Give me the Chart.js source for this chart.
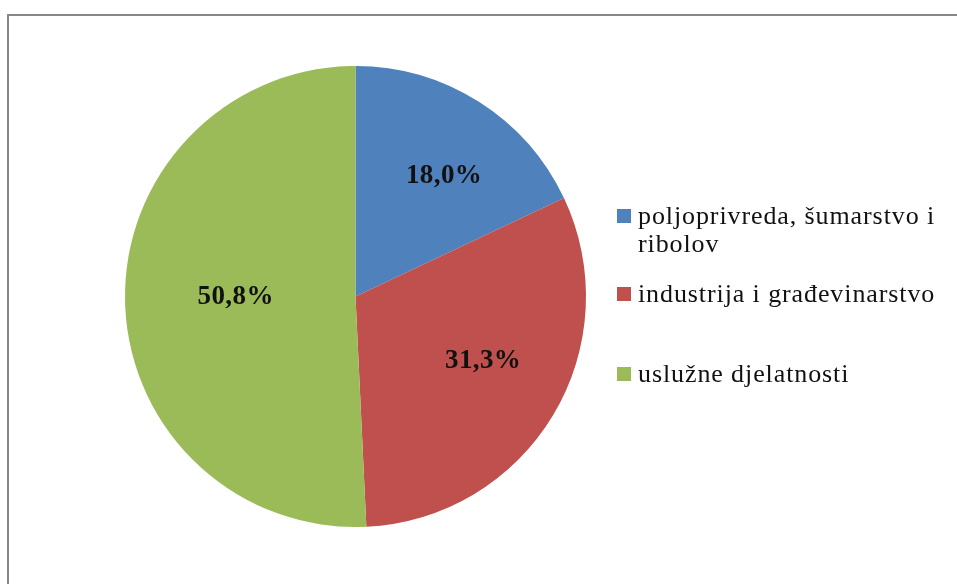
<!DOCTYPE html>
<html>
<head>
<meta charset="utf-8">
<script src="https://cdn.jsdelivr.net/npm/chart.js@4/dist/chart.umd.min.js"></script>
<style>
    html, body { margin: 0; padding: 0; background: #fff; overflow: hidden; }
    #wrap { position: relative; width: 957px; height: 584px; }
    #frame {
        position: absolute; left: 7px; top: 14px; width: 1000px; height: 700px;
        border-top: 2px solid #878787; border-left: 2px solid #878787;
    }
    #pie { position: absolute; left: 0; top: 0; }
    #legend {
        position: absolute; left: 617px; top: 202px; width: 335px;
        font-family: "Liberation Serif", "Times New Roman", serif;
        font-size: 26px; letter-spacing: 0.9px; line-height: 28px; color: #111;
    }
    .item { display: flex; align-items: flex-start; }
    .item:nth-child(2) { margin-top: 22px; }
    .item:nth-child(3) { margin-top: 52px; }
    .box { flex: 0 0 14px; height: 14px; margin-top: 7px; margin-right: 7px; }
    .txt { width: 312px; }
</style>
</head>
<body>
<div id="wrap">
    <div id="frame"></div>
    <canvas id="pie" width="957" height="584"></canvas>
    <div id="legend"></div>
</div>
<script>
const categories = ['poljoprivreda, šumarstvo i ribolov', 'industrija i građevinarstvo', 'uslužne djelatnosti'];
const shares = [18.0, 31.3, 50.8];
const sliceColors = ['#4F81BD', '#C0504D', '#9BBB59'];

// where each percentage sits: part of the radius, and part of the slice's sweep
const labelRadius = [0.64, 0.625, 0.52];
const labelSweep = [0.57, 0.47, 0.5];

const pctLabels = {
    id: 'pctLabels',
    afterDatasetsDraw(chart) {
        const ctx = chart.ctx;
        const meta = chart.getDatasetMeta(0);
        ctx.save();
        ctx.font = 'bold 27px "Liberation Serif", "Times New Roman", serif';
        ctx.letterSpacing = '0.4px';
        ctx.fillStyle = '#111';
        ctx.textAlign = 'center';
        ctx.textBaseline = 'middle';
        meta.data.forEach((arc, i) => {
            const p = arc.getProps(['x', 'y', 'startAngle', 'endAngle', 'outerRadius'], true);
            const a = p.startAngle + (p.endAngle - p.startAngle) * labelSweep[i];
            const r = p.outerRadius * labelRadius[i];
            const text = shares[i].toFixed(1).replace('.', ',') + '%';
            ctx.fillText(text, p.x + Math.cos(a) * r, p.y + Math.sin(a) * r - 2);
        });
        ctx.restore();
    }
};

const chart = new Chart(document.getElementById('pie'), {
    type: 'pie',
    data: {
        labels: categories,
        datasets: [{
            data: shares,
            backgroundColor: sliceColors,
            borderWidth: 0
        }]
    },
    options: {
        responsive: false,
        animation: false,
        devicePixelRatio: 1,
        layout: { padding: { left: 125, top: 66, right: 371, bottom: 57 } },
        plugins: {
            legend: { display: false },
            tooltip: { enabled: false }
        }
    },
    plugins: [pctLabels]
});

// legend built from the chart's own data
const legendEl = document.getElementById('legend');
chart.data.labels.forEach((label, i) => {
    const item = document.createElement('div');
    item.className = 'item';
    const box = document.createElement('span');
    box.className = 'box';
    box.style.background = chart.data.datasets[0].backgroundColor[i];
    const txt = document.createElement('span');
    txt.className = 'txt';
    txt.textContent = label;
    item.appendChild(box);
    item.appendChild(txt);
    legendEl.appendChild(item);
});
</script>
</body>
</html>
